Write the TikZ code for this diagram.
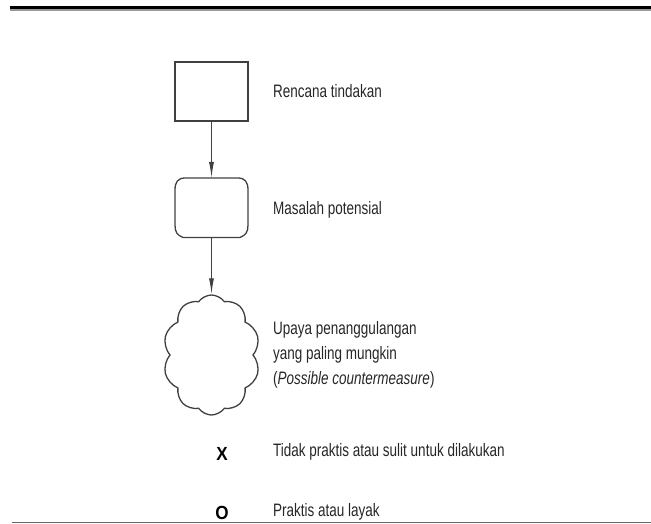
\documentclass[tikz,border=0pt]{standalone}
\usepackage{fontspec}
\setmainfont{Liberation Sans}[FakeStretch=0.75]
\newfontfamily\markfont{Liberation Sans}[FakeStretch=0.9]
\usetikzlibrary{arrows.meta,shapes.symbols}
\begin{document}
\begin{tikzpicture}[x=1pt,y=-1pt,
  shapeline/.style={draw=black!75,line width=1.3pt},
  flow/.style={draw=black!75,line width=1.1pt,-{Latex[length=16pt,width=5pt]}},
  lbl/.style={anchor=west,inner sep=0pt,font=\fontsize{18}{25}\selectfont,text=black!85,align=left},
  legendmark/.style={inner sep=0pt,font=\markfont\bfseries\fontsize{19}{19}\selectfont}]
\useasboundingbox (0,0) rectangle (651,524);
% header and footer rules
\fill[black] (10,6.5) rectangle (651,9.5);
\fill[black!40] (10,9.5) rectangle (651,11);
\draw[black!60,line width=1pt] (12,522.5) -- (651,522.5);

% action plan box
\node[shapeline,rectangle,minimum width=73pt,minimum height=59pt,inner sep=0pt] (plan) at (211.5,91.5) {};
% potential problem shape
\draw[shapeline] (185,178) -- (238,178)
  .. controls (245,178) and (248,182) .. (248,190) -- (248,225)
  .. controls (248,232) and (246,235) .. (240,237.5) -- (183,237.5)
  .. controls (177,235) and (175,232) .. (175,225) -- (175,190)
  .. controls (175,182) and (178,178) .. (185,178) -- cycle;
\coordinate (probtop) at (211.5,178);
\coordinate (probbot) at (211.5,237.5);
% countermeasure cloud
\node[shapeline,cloud,cloud puffs=10,cloud puff arc=110,aspect=0.8,
  minimum width=97pt,minimum height=120pt,inner sep=0pt] (cloud) at (211.5,355) {};

% connectors
\draw[flow] (plan.south) -- (probtop);
\draw[flow] (probbot) -- (cloud.north);

% labels
\node[lbl] (t1) at (273,91) {Rencana tindakan};
\node[lbl] (t2) at (273,210) {Masalah potensial};
\node[lbl] (t3) at (273,355) {Upaya penanggulangan\\yang paling mungkin\\(\textit{Possible countermeasure})};

% legend
\node[legendmark] (mx) at (222,454) {X};
\node[lbl] (t4) at (273,452) {Tidak praktis atau sulit untuk dilakukan};
\node[legendmark] (mo) at (222,513) {O};
\node[lbl] (t5) at (273,512) {Praktis atau layak};
\end{tikzpicture}
\end{document}
